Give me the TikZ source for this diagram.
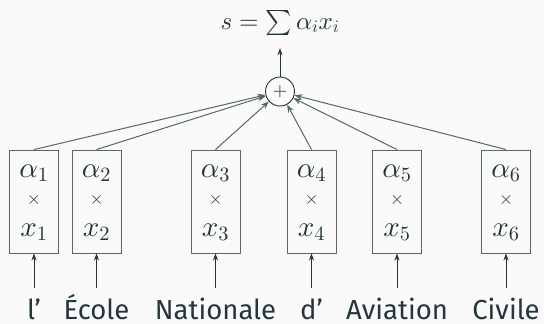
\documentclass[tikz,border=0pt]{standalone}
\usepackage{fontspec}
\setmainfont{Fira Sans}
\DeclareFontShape{OML}{cmm}{m}{it}{<->cmmi10}{}
\DeclareFontShape{OMS}{cmsy}{m}{n}{<->cmsy10}{}
\DeclareFontShape{OMX}{cmex}{m}{n}{<->cmex10}{}
\DeclareFontShape{OT1}{cmr}{m}{n}{<->cmr10}{}
\usetikzlibrary{arrows.meta}
\definecolor{mdt}{HTML}{23373B}
\definecolor{bg}{HTML}{FAFAFA}
\definecolor{ln}{HTML}{56686A}
\begin{document}
\begin{tikzpicture}[x=1pt,y=-1pt,
  box/.style={draw=ln,line width=0.9pt,minimum width=49pt,minimum height=103pt,inner sep=0pt},
  mathlbl/.style={text=mdt,font=\fontsize{29}{29}\selectfont,inner sep=0pt,anchor=base},
  timeslbl/.style={text=mdt,font=\fontsize{18}{18}\selectfont,inner sep=0pt},
  word/.style={text=mdt,font=\fontsize{27.5}{27.5}\selectfont,inner xsep=0pt,inner ysep=6.5pt,text height=25pt,text depth=0pt,anchor=base},
  inarr/.style={draw=mdt,line width=0.8pt,-{Stealth[length=7pt,width=5pt]}},
  sumarr/.style={draw=ln,line width=1pt,-{Stealth[length=8pt,width=6pt]}},
  plusnode/.style={circle,draw=mdt,line width=0.9pt,minimum size=29pt,inner sep=0pt,text=mdt,font=\fontsize{19}{19}\selectfont},
  formula/.style={text=mdt,font=\fontsize{25}{25}\selectfont,inner sep=0pt,text depth=19pt,anchor=base}
]
\fill[bg] (0,0) rectangle (544,324);
\useasboundingbox (0,0) rectangle (544,324);
\node[formula] (f) at (280,29) {$s=\sum\alpha_i x_i$};
\node[plusnode] (c) at (280,91.5) {$+$};
\draw[inarr] (c.north) -- (f.south);
\foreach \i/\x/\w in {1/34/l’, 2/96.5/École, 3/215.5/Nationale, 4/311.5/d’, 5/397/Aviation, 6/506/Civile}{
  \node[box] (b\i) at (\x,201.5) {};
  \node[mathlbl] (a\i) at (\x,177) {$\alpha_{\i}$};
  \node[timeslbl] (t\i) at (\x,200) {$\times$};
  \node[mathlbl] (x\i) at (\x,236) {$x_{\i}$};
  \node[word] (w\i) at (\x,319.5) {\w};
  \draw[inarr] (w\i.north) -- (b\i.south);
  \draw[sumarr] (b\i.north) -- (c);
}
\end{tikzpicture}
\end{document}
